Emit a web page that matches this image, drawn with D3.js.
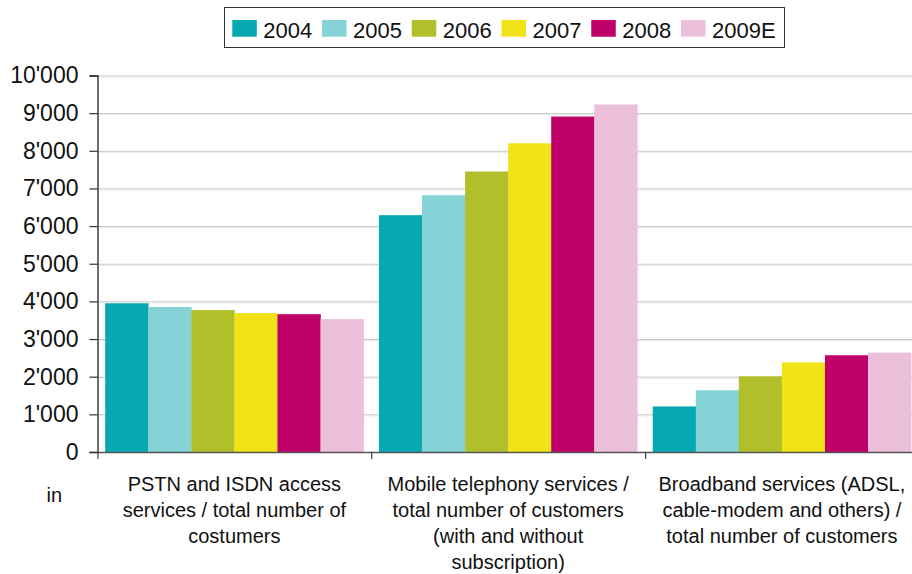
<!DOCTYPE html>
<html>
<head>
<meta charset="utf-8">
<script src="https://cdn.jsdelivr.net/npm/d3@7"></script>
<style>
  html, body { margin: 0; padding: 0; background: #fff; }
  svg { display: block; font-family: "Liberation Sans", Arial, sans-serif; }
</style>
</head>
<body>
<svg id="chart" width="912" height="574"></svg>
<script>
// Service categories (x axis), one line per array entry
const categories = ["pstn", "mobile", "broadband"];
const categoryLines = [
  ["PSTN and ISDN access", "services / total number of", "costumers"],
  ["Mobile telephony services /", "total number of customers", "(with and without", "subscription)"],
  ["Broadband services (ADSL,", "cable-modem and others) /", "total number of customers"]
];

// Years shown in the legend
const years = ["2004", "2005", "2006", "2007", "2008", "2009E"];
const yearColors = ["#06a9b1", "#85d3d7", "#b1bf2a", "#f2e218", "#be0068", "#ecbfda"];

// Customers in thousands, one array per year (pstn, mobile, broadband)
const values2004 = [3950, 6290, 1210];
const values2005 = [3850, 6820, 1640];
const values2006 = [3770, 7450, 2010];
const values2007 = [3690, 8200, 2380];
const values2008 = [3660, 8910, 2570];
const values2009E = [3530, 9230, 2640];
const seriesValues = [values2004, values2005, values2006, values2007, values2008, values2009E];

const yTicks = [0, 1000, 2000, 3000, 4000, 5000, 6000, 7000, 8000, 9000, 10000];

const svg = d3.select("#chart");

const x0 = 97.5, xEnd = 918.8, yBase = 452, yTop = 75.5;

const y = d3.scaleLinear().domain([0, 10000]).range([yBase, yTop]);
const x = d3.scaleBand().domain(categories).range([x0, xEnd]).paddingInner(0).paddingOuter(0);
const xInner = d3.scaleBand().domain(years).range([7.7, x.bandwidth() - 7.7]).padding(0);

const fmt = v => d3.format(",")(v).replace(/,/g, "'");

// Gridlines with a soft second line underneath
const grid = svg.append("g");
yTicks.filter(t => t > 0).forEach(t => {
  grid.append("line")
    .attr("x1", x0).attr("x2", 912)
    .attr("y1", y(t) + 0.5).attr("y2", y(t) + 0.5)
    .attr("stroke", "#c4c4c4").attr("stroke-width", 1);
  grid.append("line")
    .attr("x1", x0).attr("x2", 912)
    .attr("y1", y(t) + 1.5).attr("y2", y(t) + 1.5)
    .attr("stroke", "#e8e8e8").attr("stroke-width", 1);
});

// Bars
const rows = categories.map((c, ci) => ({
  cat: c,
  items: years.map((yr, yi) => ({ year: yr, value: seriesValues[yi][ci], color: yearColors[yi] }))
}));

const groups = svg.append("g").selectAll("g")
  .data(rows).join("g")
  .attr("transform", d => `translate(${x(d.cat)},0)`);

groups.selectAll("rect")
  .data(d => d.items).join("rect")
  .attr("x", d => xInner(d.year))
  .attr("width", xInner.bandwidth() + 0.3)
  .attr("y", d => y(d.value))
  .attr("height", d => y(0) - y(d.value))
  .attr("fill", d => d.color);

// Y axis
const yAxis = svg.append("g")
  .attr("transform", `translate(${x0},0)`)
  .call(d3.axisLeft(y).tickValues(yTicks).tickFormat(fmt).tickSize(8).tickPadding(11));
yAxis.select(".domain").attr("stroke", "#222").attr("stroke-width", 1.3);
yAxis.selectAll(".tick line").attr("stroke", "#333").attr("stroke-width", 1.2);
yAxis.selectAll(".tick text")
  .attr("font-size", 23)
  .attr("fill", "#111")
  .attr("font-family", "Liberation Sans, Arial, sans-serif");

// Baseline and category separators
svg.append("line")
  .attr("x1", x0).attr("x2", 912)
  .attr("y1", yBase + 0.5).attr("y2", yBase + 0.5)
  .attr("stroke", "#555").attr("stroke-width", 1.3);
categories.forEach(c => {
  svg.append("line")
    .attr("x1", x(c) + 0.5).attr("x2", x(c) + 0.5)
    .attr("y1", yBase).attr("y2", yBase + 7)
    .attr("stroke", "#333").attr("stroke-width", 1.1);
});

// Category labels
const labels = svg.append("g").selectAll("text")
  .data(categories).join("text")
  .attr("x", d => x(d) + x.bandwidth() / 2)
  .attr("y", 490.5)
  .attr("text-anchor", "middle")
  .attr("font-size", 20)
  .attr("fill", "#111");
labels.each(function(d, i) {
  const t = d3.select(this);
  categoryLines[i].forEach((line, li) => {
    t.append("tspan")
      .attr("x", x(d) + x.bandwidth() / 2)
      .attr("dy", li === 0 ? 0 : 26.2)
      .text(line);
  });
});

// Unit label
svg.append("text")
  .attr("x", 46.5).attr("y", 501.5)
  .attr("font-size", 20).attr("fill", "#111")
  .text("in");

// Legend
const legend = svg.append("g");
legend.append("rect")
  .attr("x", 224.5).attr("y", 7.5)
  .attr("width", 560).attr("height", 40)
  .attr("fill", "#fff").attr("stroke", "#333").attr("stroke-width", 1);
const legendX = d3.scalePoint().domain(years).range([232.3, 681]);
const items = legend.selectAll("g.item")
  .data(years).join("g").attr("class", "item")
  .attr("transform", d => `translate(${legendX(d)},0)`);
items.append("rect")
  .attr("x", 0).attr("y", 20)
  .attr("width", 24.5).attr("height", 16.7)
  .attr("fill", (d, i) => yearColors[i]);
items.append("text")
  .attr("x", 31).attr("y", 37.5)
  .attr("font-size", 22).attr("fill", "#111")
  .text(d => d);
</script>
</body>
</html>
